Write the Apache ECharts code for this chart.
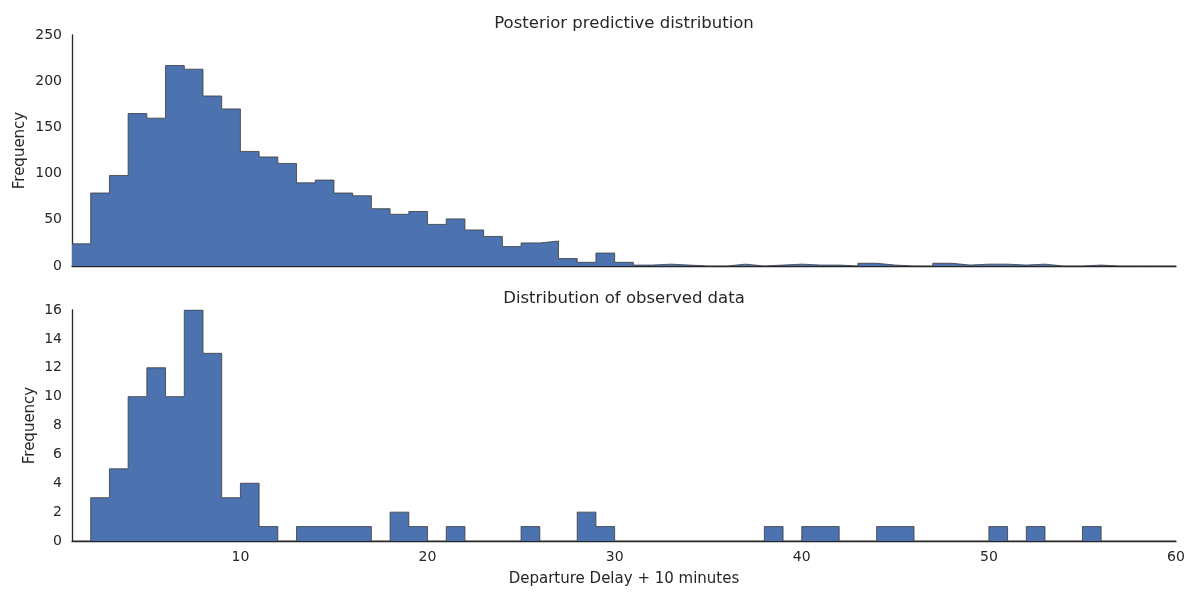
<!DOCTYPE html>
<html>
<head>
<meta charset="utf-8">
<script src="https://cdn.jsdelivr.net/npm/echarts@6/dist/echarts.min.js"></script>
<style>
  html, body { margin: 0; padding: 0; background: #fff; }
  #main { width: 1200px; height: 600px; }
</style>
</head>
<body>
<div id="main"></div>
<script type="text/javascript">
	// 直方图的左边界（每个 bin 宽度为 1）
	var binEdges = [];
	for (var e = 1; e <= 59; e++) binEdges.push(e);

	// 后验预测分布 bins 1..59
	var posteriorCounts = [
	    24, 79, 98, 165, 160, 217, 213, 184, 170, 124,
	    118, 111, 90, 93, 79, 76, 62, 56, 59, 45,
	    51, 39, 32, 21, 25, 27, 8, 4, 14, 4,
	    1, 2, 1, 0, 0, 2, 0, 1, 2, 1,
	    1, 0, 3, 1, 0, 0, 3, 1, 2, 2,
	    1, 2, 0, 0, 1, 0, 0, 0, 0
	];
	// 观测数据 bins 1..59
	var observedCounts = [
	    0, 3, 5, 10, 12, 10, 16, 13, 3, 4,
	    1, 0, 1, 1, 1, 1, 0, 2, 1, 0,
	    1, 0, 0, 0, 1, 0, 0, 2, 1, 0,
	    0, 0, 0, 0, 0, 0, 0, 1, 0, 1,
	    1, 0, 0, 1, 1, 0, 0, 0, 0, 1,
	    0, 1, 0, 0, 1, 0, 0, 0, 0
	];
	var titles = ['Posterior predictive distribution', 'Distribution of observed data'];
	var xName = 'Departure Delay + 10 minutes';
	var yName = 'Frequency';

	var textColor = '#262626';
	var font = 'DejaVu Sans';

	// 阶梯线数据：左边界 + 最后一个右边界
	function stepData(counts) {
	    var out = binEdges.map(function (x, i) { return [x, counts[i]]; });
	    out.push([binEdges[binEdges.length - 1] + 1, counts[counts.length - 1]]);
	    return out;
	}

	var axisLineStyle = {show: true, lineStyle: {color: textColor, width: 1.3}};

	var myEcharts = echarts.init(document.getElementById('main'));
	var option = {
	    animation: false,
	    textStyle: {fontFamily: font, color: textColor},
	    title: [
	        {text: titles[0], left: 624, textAlign: 'center', top: 15, padding: 0,
	         textStyle: {fontFamily: font, fontSize: 16.5, fontWeight: 'normal', color: textColor}},
	        {text: titles[1], left: 624, textAlign: 'center', top: 290, padding: 0,
	         textStyle: {fontFamily: font, fontSize: 16.5, fontWeight: 'normal', color: textColor}}
	    ],
	    grid: [
	        {left: 72, right: 24, top: 35, height: 231},
	        {left: 72, right: 24, top: 310, height: 231}
	    ],
	    xAxis: [
	        {type: 'value', gridIndex: 0, min: 1, max: 60, interval: 1,
	         axisLine: axisLineStyle, axisTick: {show: false}, splitLine: {show: false},
	         axisLabel: {show: false}},
	        {type: 'value', gridIndex: 1, min: 1, max: 60, interval: 1,
	         axisLine: axisLineStyle, axisTick: {show: false}, splitLine: {show: false},
	         axisLabel: {
	             fontFamily: font, fontSize: 14, color: textColor, margin: 9,
	             formatter: function (v) { return v % 10 === 0 ? String(v) : ''; }
	         },
	         name: xName, nameLocation: 'middle', nameGap: 31, nameMoveOverlap: false,
	         nameTextStyle: {fontFamily: font, fontSize: 15, color: textColor}}
	    ],
	    yAxis: [
	        {type: 'value', gridIndex: 0, min: 0, max: 250, interval: 50,
	         axisLine: axisLineStyle, axisTick: {show: false}, splitLine: {show: false},
	         axisLabel: {fontFamily: font, fontSize: 14, color: textColor, margin: 10},
	         name: yName, nameLocation: 'middle', nameGap: 44, nameMoveOverlap: false,
	         nameTextStyle: {fontFamily: font, fontSize: 15, color: textColor}},
	        {type: 'value', gridIndex: 1, min: 0, max: 16, interval: 2,
	         axisLine: axisLineStyle, axisTick: {show: false}, splitLine: {show: false},
	         axisLabel: {fontFamily: font, fontSize: 14, color: textColor, margin: 10},
	         name: yName, nameLocation: 'middle', nameGap: 34, nameMoveOverlap: false,
	         nameTextStyle: {fontFamily: font, fontSize: 15, color: textColor}}
	    ],
	    series: [
	        {type: 'line', xAxisIndex: 0, yAxisIndex: 0, step: 'end', showSymbol: false,
	         data: stepData(posteriorCounts),
	         lineStyle: {color: '#3b3b3b', width: 0.8},
	         areaStyle: {color: '#4C72B0', opacity: 1}, z: 1},
	        {type: 'line', xAxisIndex: 1, yAxisIndex: 1, step: 'end', showSymbol: false,
	         data: stepData(observedCounts),
	         lineStyle: {color: '#3b3b3b', width: 0.8},
	         areaStyle: {color: '#4C72B0', opacity: 1}, z: 1}
	    ]
	};
	myEcharts.setOption(option);
</script>
</body>
</html>
